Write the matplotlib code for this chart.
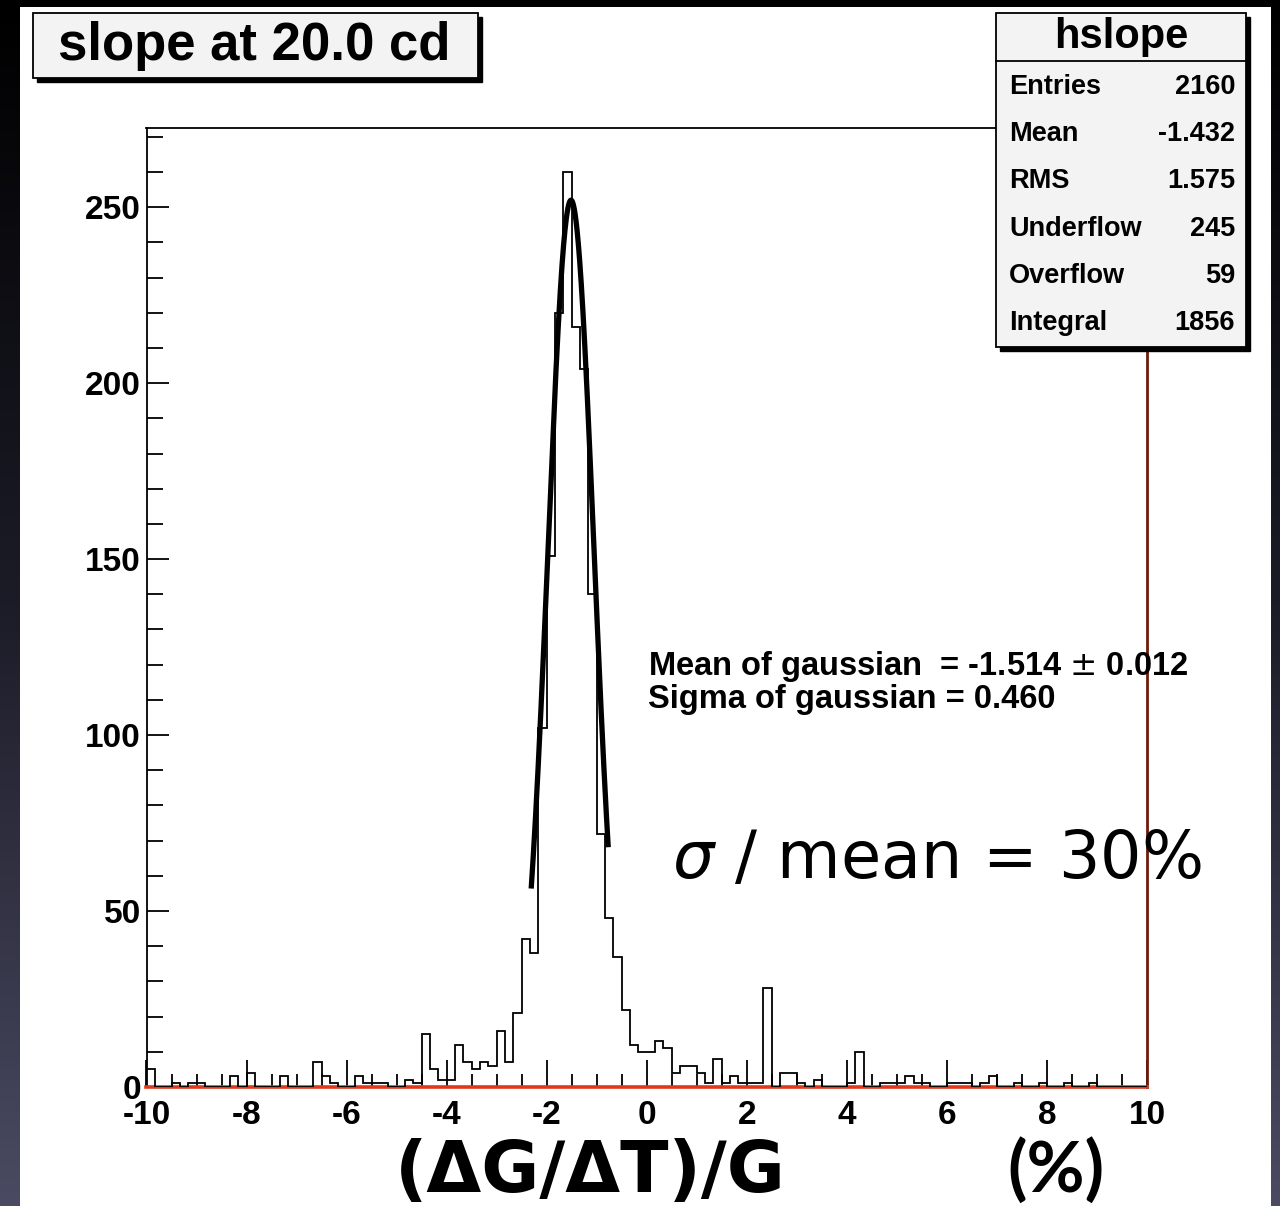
#!/usr/bin/env python3
"""
hslope: relative gain slope distribution with gaussian fit, ROOT-style canvas
"""
import numpy as np
import matplotlib
matplotlib.use("Agg")
import matplotlib.pyplot as plt
from matplotlib.patches import Rectangle
from matplotlib.colors import LinearSegmentedColormap
from matplotlib.ticker import MultipleLocator

# histogram hslope: 120 bins of width 1/6 between -10 and 10
x_min, x_max = -10.0, 10.0
counts = [5, 0, 0, 1, 0, 1, 1, 0, 0, 0,
          3, 0, 4, 0, 0, 0, 3, 0, 0, 0,
          7, 3, 1, 0, 0, 3, 1, 1, 1, 0,
          0, 2, 1, 15, 5, 2, 2, 12, 7, 5,
          7, 6, 16, 7, 21, 42, 38, 102, 151, 220,
          260, 216, 204, 140, 72, 48, 37, 22, 12, 10,
          10, 13, 11, 4, 6, 6, 4, 1, 8, 1,
          3, 1, 1, 1, 28, 0, 4, 4, 1, 0,
          2, 0, 0, 0, 1, 10, 0, 0, 1, 1,
          1, 3, 1, 1, 0, 0, 1, 1, 1, 0,
          1, 3, 0, 0, 1, 0, 0, 1, 0, 0,
          1, 0, 0, 1, 0, 0, 0, 0, 0, 0]
y_max = 272.5

# stats box
hist_name = "hslope"
stat_names = ["Entries", "Mean", "RMS", "Underflow", "Overflow", "Integral"]
stat_values = ["2160", "-1.432", "1.575", "245", "59", "1856"]

# gaussian fit
fit_mean = -1.514
fit_mean_err = 0.012
fit_sigma = 0.460
fit_amp = 252.0
fit_range = (-2.31, -0.77)
ratio_pct = 30

title = "slope at 20.0 cd"
x_title = "(\u0394G/\u0394T)/G"
x_unit = "(%)"

W, H = 1280, 1206
ROOT_FONT = ["Liberation Sans", "DejaVu Sans"]
plt.rcParams["axes.unicode_minus"] = False

fig = plt.figure(figsize=(W / 100, H / 100), dpi=100)


def pixel_axes(z):
    a = fig.add_axes([0, 0, 1, 1], zorder=z)
    a.set_xlim(0, W)
    a.set_ylim(H, 0)
    a.axis("off")
    a.patch.set_alpha(0)
    return a


# dark backdrop and the white canvas
bg = pixel_axes(-10)
cmap = LinearSegmentedColormap.from_list("bg", ["#000000", "#1c1c28", "#4a4a62"])
bg.imshow(np.linspace(0, 1, 256).reshape(-1, 1), aspect="auto", cmap=cmap,
          extent=[0, W, H, 0])
bg.add_patch(Rectangle((20, 7), 1251, H, facecolor="white", edgecolor="none"))
bg.set_xlim(0, W)
bg.set_ylim(H, 0)

# main frame
left, right, top, bottom = 146.5, 1147, 128, 1087
ax = fig.add_axes([left / W, 1 - bottom / H, (right - left) / W, (bottom - top) / H],
                  zorder=1)
ax.set_facecolor("white")

edges = np.linspace(x_min, x_max, len(counts) + 1)
ax.stairs(counts, edges, baseline=0, color="black", lw=1.3, zorder=3)

xs = np.linspace(fit_range[0], fit_range[1], 300)
ys = fit_amp * np.exp(-0.5 * ((xs - fit_mean) / fit_sigma) ** 2)
ax.plot(xs, ys, color="black", lw=3.8, zorder=4, solid_capstyle="butt")

ax.set_xlim(x_min, x_max)
ax.set_ylim(0, y_max)
ax.xaxis.set_major_locator(MultipleLocator(2))
ax.xaxis.set_minor_locator(MultipleLocator(0.5))
ax.yaxis.set_major_locator(MultipleLocator(50))
ax.yaxis.set_minor_locator(MultipleLocator(10))
ax.tick_params(which="both", direction="in", top=False, right=False, width=1.3,
               colors="black")
ax.tick_params(axis="x", which="major", length=19.5, pad=9)
ax.tick_params(axis="x", which="minor", length=9.5)
ax.tick_params(axis="y", which="major", length=16, pad=4)
ax.tick_params(axis="y", which="minor", length=11.5)
for lab in ax.get_xticklabels() + ax.get_yticklabels():
    lab.set_fontfamily(ROOT_FONT)
    lab.set_fontweight("bold")
    lab.set_fontsize(24)
for side in ["left", "top"]:
    ax.spines[side].set_color("black")
    ax.spines[side].set_linewidth(1.3)
ax.spines["bottom"].set_color("#e0381c")
ax.spines["bottom"].set_linewidth(2.6)
ax.spines["right"].set_color("#6e1a0c")
ax.spines["right"].set_linewidth(2)

# overlay: title box, stats box and annotations
ov = pixel_axes(5)


def shadow_box(x0, y0, x1, y1):
    ov.add_patch(Rectangle((x0 + 4, y0 + 4), x1 - x0, y1 - y0,
                           facecolor="black", edgecolor="black", lw=1))
    ov.add_patch(Rectangle((x0, y0), x1 - x0, y1 - y0,
                           facecolor="#f3f3f3", edgecolor="black", lw=1.3))


shadow_box(33, 13, 478, 78)
ov.text(254, 46, title, ha="center", va="center", fontsize=38,
        fontweight="bold", family=ROOT_FONT)

shadow_box(996, 13, 1246, 347)
ov.plot([996, 1246], [61, 61], color="black", lw=1.3)
ov.text(1121, 37, hist_name, ha="center", va="center", fontsize=30,
        fontweight="bold", family=ROOT_FONT)
for k, (name, val) in enumerate(zip(stat_names, stat_values)):
    yk = 87 + 47.2 * k
    ov.text(1009, yk, name, ha="left", va="center", fontsize=19.5,
            fontweight="bold", family=ROOT_FONT)
    ov.text(1235, yk, val, ha="right", va="center", fontsize=19.5,
            fontweight="bold", family=ROOT_FONT)

ov.text(648, 675, "Mean of gaussian  = %.3f $\\pm$ %.3f" % (fit_mean, fit_mean_err),
        ha="left", va="baseline", fontsize=23.5, fontweight="bold", family=ROOT_FONT)
ov.text(648, 708, "Sigma of gaussian = %.3f" % fit_sigma,
        ha="left", va="baseline", fontsize=23.5, fontweight="bold", family=ROOT_FONT)

ov.text(672, 878, "$\\mathit{\\sigma}$ / mean = %d%%" % ratio_pct, ha="left",
        va="baseline", fontsize=47, family=["DejaVu Sans"])

ov.text(590, 1192, x_title, ha="center", va="baseline", fontsize=51,
        fontweight="bold", family=["DejaVu Sans"])
ov.text(1056, 1192, x_unit, ha="center", va="baseline", fontsize=51,
        fontweight="bold", family=["Lato", "DejaVu Sans"])

fig.savefig("out.png", dpi=100)
